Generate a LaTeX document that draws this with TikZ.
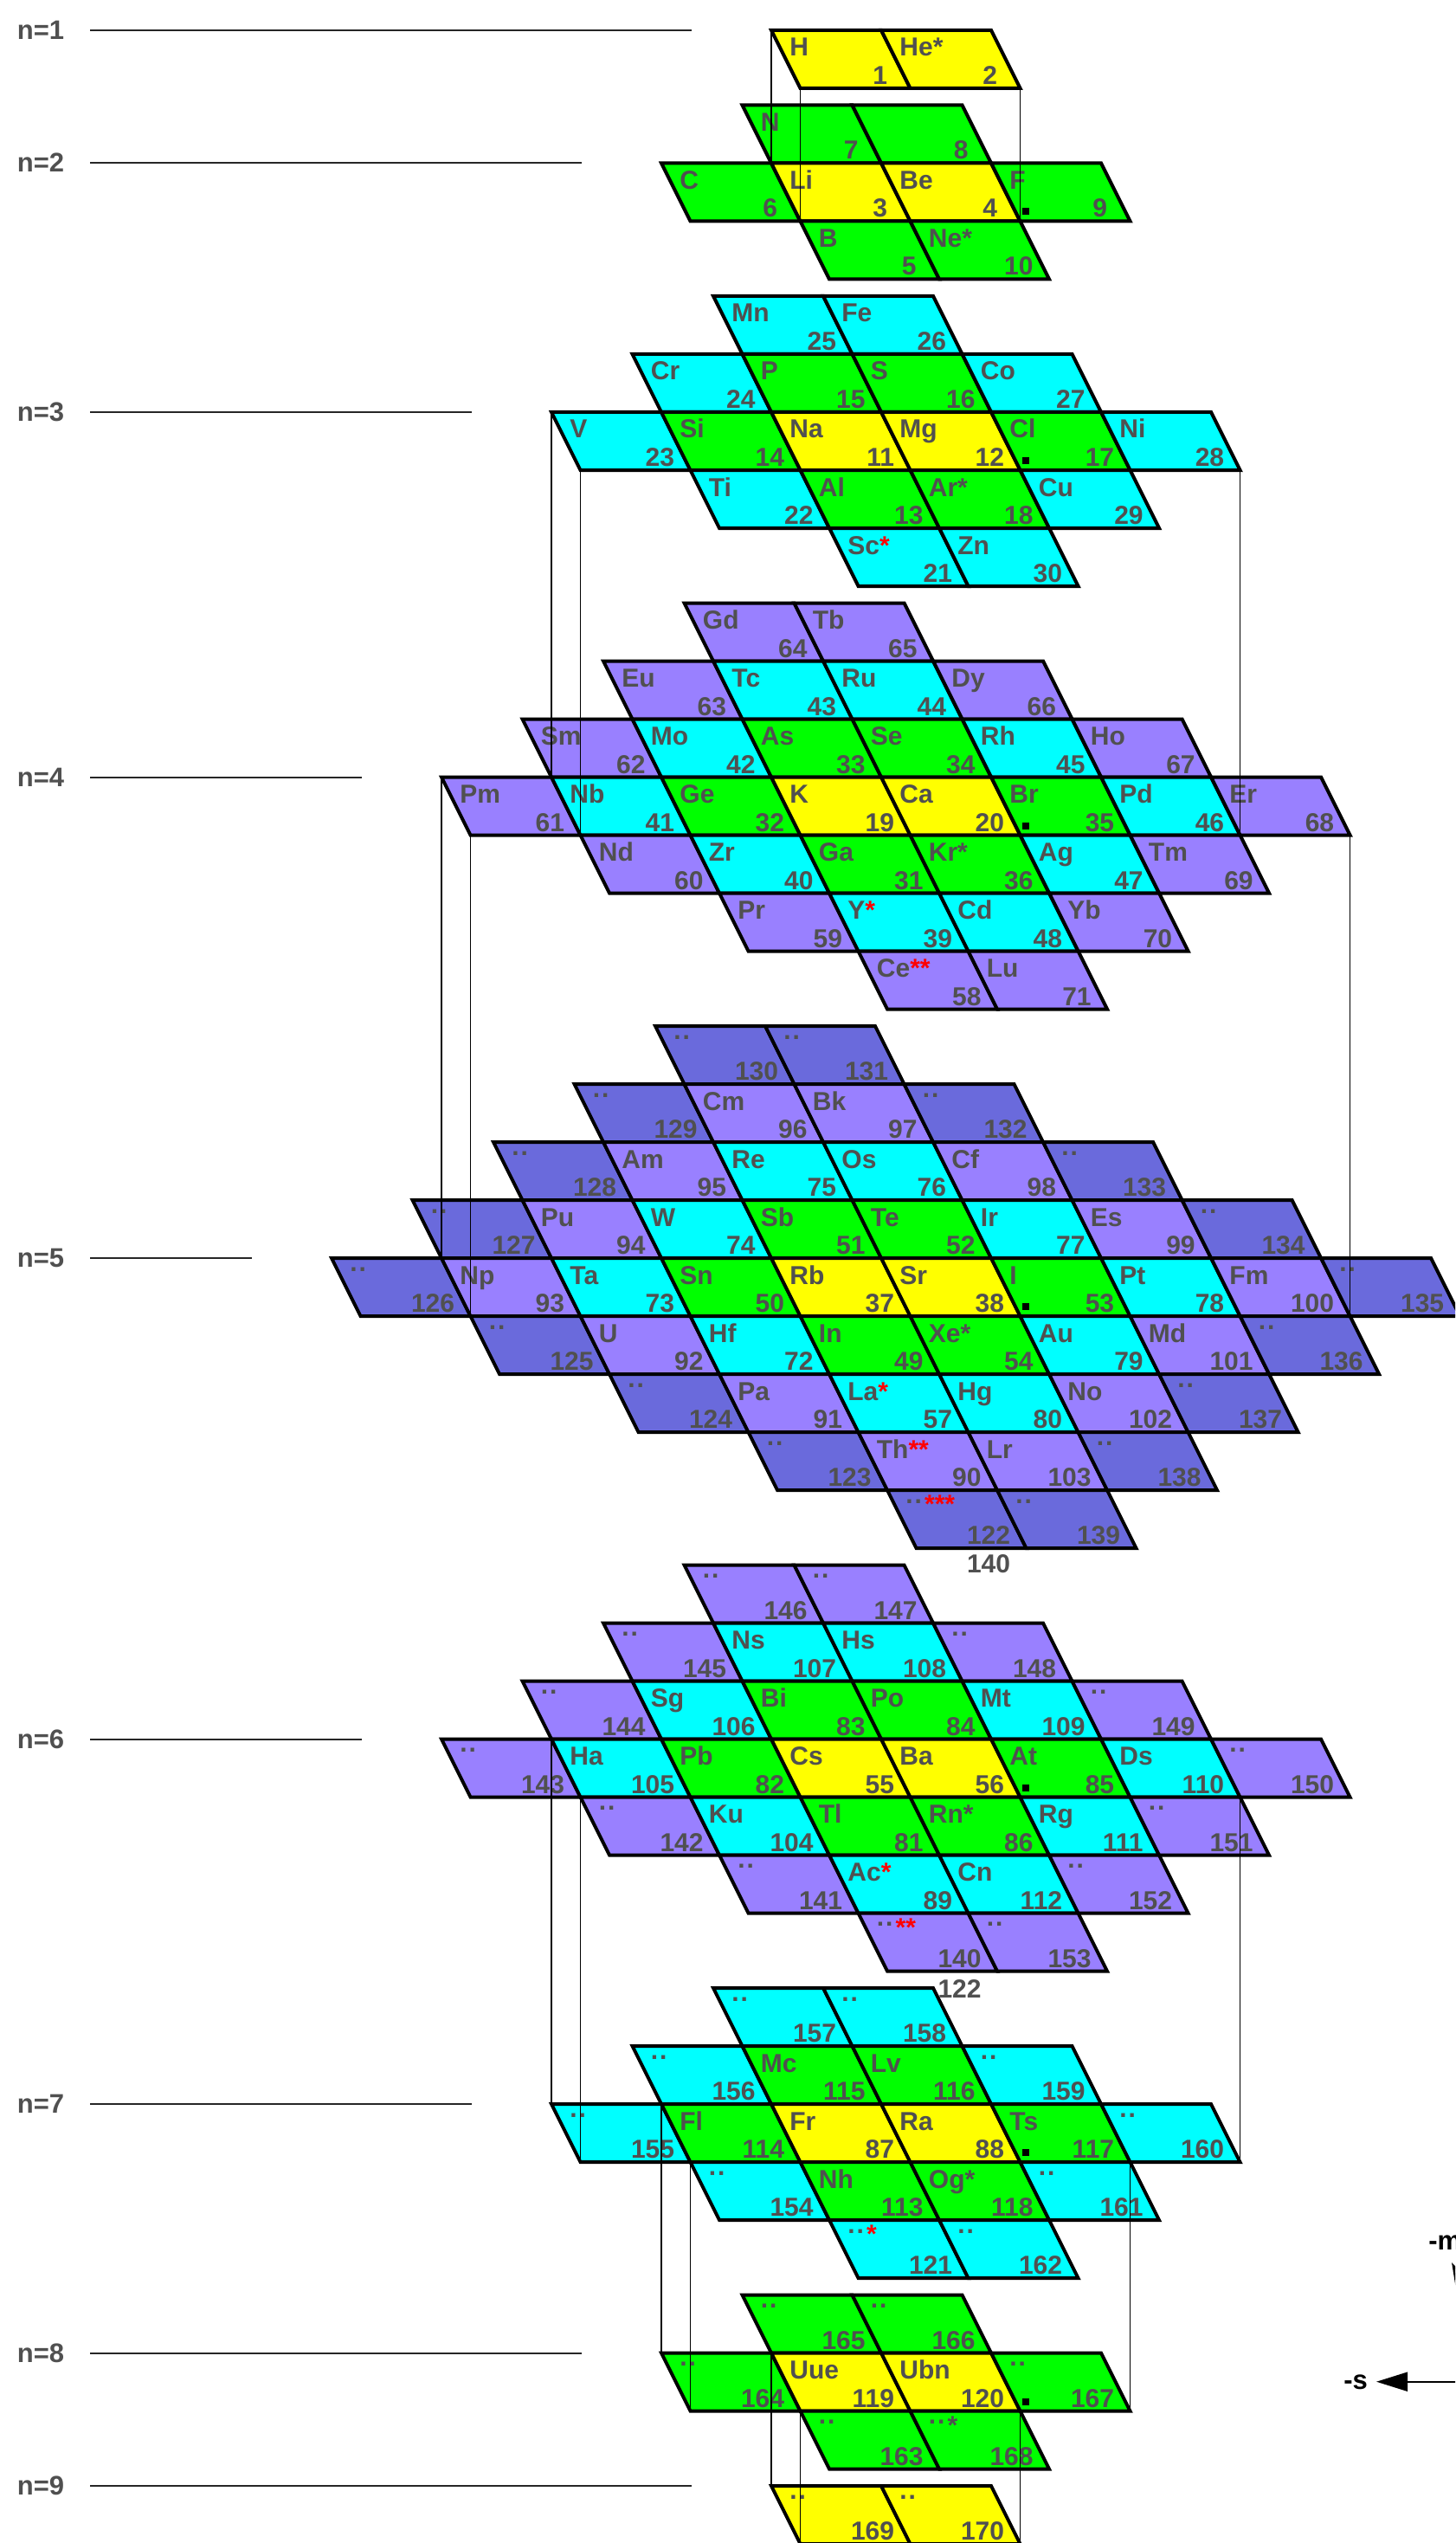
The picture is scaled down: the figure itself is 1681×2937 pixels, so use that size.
\documentclass[tikz,border=0pt]{standalone}
\usepackage{fontspec}
\setmainfont{Liberation Sans}
\usetikzlibrary{arrows.meta}
\definecolor{cS}{RGB}{255,255,0}
\definecolor{cP}{RGB}{0,255,0}
\definecolor{cD}{RGB}{0,255,255}
\definecolor{cF}{RGB}{153,128,255}
\definecolor{cG}{RGB}{106,106,220}
\definecolor{txtg}{RGB}{80,80,80}
\tikzset{
 cellline/.style={draw=black, line width=2pt, line join=miter},
 symtxt/.style={anchor=base west, inner sep=0pt, font=\fontsize{15}{18}\selectfont\bfseries, text=txtg},
 numtxt/.style={anchor=base east, inner sep=0pt, font=\fontsize{15}{18}\selectfont\bfseries, text=txtg},
 proj/.style={draw=black, line width=0.75pt},
 lvl/.style={draw=black!85, line width=1pt},
 lvltxt/.style={anchor=base west, inner sep=0pt, font=\fontsize{15.5}{18}\selectfont\bfseries, text=txtg},
 axtxt/.style={anchor=base west, inner sep=0pt, font=\fontsize{15.5}{18}\selectfont\bfseries, text=black},
 axarr/.style={draw=black, line width=1pt, -{Triangle[length=18pt,width=11pt]}},
 sqmark/.style={fill=black, draw=none},
}
\newcommand\rs[1]{\textcolor{red}{#1}}
\newcommand\pl{\raisebox{7.5pt}{.\kern1pt.}}
\newcommand\plr[1]{\pl\kern1.5pt\raisebox{1.6pt}{\textcolor{red}{#1}}}
\newcommand\plk{\pl\kern1.5pt\raisebox{1.6pt}{*}}
\newcommand\cel[5]{%
 \pgfmathsetmacro\cx{891+#2*127+#3*33.5}%
 \pgfmathsetmacro\cy{#1+#3*67}%
 \pgfmathtruncatemacro\cdist{abs(#3)+max(-#2,#2-1)}%
 \ifcase\cdist\relax\def\ccol{cS}\or\def\ccol{cP}\or\def\ccol{cD}\or\def\ccol{cF}\else\def\ccol{cG}\fi
 \filldraw[fill=\ccol, cellline] (\cx,\cy) -- ++(127,0) -- ++(33.5,67) -- ++(-127,0) -- cycle;
 \node[symtxt] (s#5) at (\cx+21,\cy+30) {#4};
 \pgfmathsetmacro\noff{ifthenelse(#5<10,26,18)}%
 \node[numtxt] (e#5) at (\cx+160.5-\noff,\cy+62.5) {#5};
}
\newcommand\crow[4]{%
 \foreach \s/\n [count=\c from 0] in {#4} {%
  \pgfmathtruncatemacro\ci{#3+\c}%
  \cel{#1}{\ci}{#2}{\s}{\n}%
 }%
}
\newcommand\sqm[1]{%
 \fill[sqmark] (1178.5+2.5,#1+67-15) rectangle (1178.5+10.5,#1+67-7);
}
\begin{document}
\begin{tikzpicture}[x=0.5pt,y=-0.5pt]
\useasboundingbox (0,0) rectangle (1681,2937);
\clip (0,0) rectangle (1681,2937);
% level lines
\foreach \lab/\yy/\xe in {1/35/799, 2/188.5/672, 3/476/545, 4/897.5/418, 5/1453/291, 6/2008.5/418, 7/2430/545, 8/2717.5/672, 9/2871/799} {
 \node[lvltxt] (lab\lab) at (19.5,\yy+10.5) {n=\lab};
 \coordinate (la\lab) at (104,\yy);
 \coordinate (lb\lab) at (\xe,\yy);
 \draw[lvl] (la\lab) -- (lb\lab);
}
% shell 1
\crow{35}{0}{0}{H/1, He*/2}
% shell 2
\crow{188.5}{-1}{0}{N/7, {}/8}
\crow{188.5}{0}{-1}{C/6, Li/3, Be/4, F/9}
\crow{188.5}{1}{0}{B/5, Ne*/10}
\sqm{188.5}
% shell 3
\crow{476}{-2}{0}{Mn/25, Fe/26}
\crow{476}{-1}{-1}{Cr/24, P/15, S/16, Co/27}
\crow{476}{0}{-2}{V/23, Si/14, Na/11, Mg/12, Cl/17, Ni/28}
\crow{476}{1}{-1}{Ti/22, Al/13, Ar*/18, Cu/29}
\crow{476}{2}{0}{{Sc\rs{*}}/21, Zn/30}
\sqm{476}
% shell 4
\crow{897.5}{-3}{0}{Gd/64, Tb/65}
\crow{897.5}{-2}{-1}{Eu/63, Tc/43, Ru/44, Dy/66}
\crow{897.5}{-1}{-2}{Sm/62, Mo/42, As/33, Se/34, Rh/45, Ho/67}
\crow{897.5}{0}{-3}{Pm/61, Nb/41, Ge/32, K/19, Ca/20, Br/35, Pd/46, Er/68}
\crow{897.5}{1}{-2}{Nd/60, Zr/40, Ga/31, Kr*/36, Ag/47, Tm/69}
\crow{897.5}{2}{-1}{Pr/59, {Y\rs{*}}/39, Cd/48, Yb/70}
\crow{897.5}{3}{0}{{Ce\rs{**}}/58, Lu/71}
\sqm{897.5}
% shell 5
\crow{1453}{-4}{0}{\pl/130, \pl/131}
\crow{1453}{-3}{-1}{\pl/129, Cm/96, Bk/97, \pl/132}
\crow{1453}{-2}{-2}{\pl/128, Am/95, Re/75, Os/76, Cf/98, \pl/133}
\crow{1453}{-1}{-3}{\pl/127, Pu/94, W/74, Sb/51, Te/52, Ir/77, Es/99, \pl/134}
\crow{1453}{0}{-4}{\pl/126, Np/93, Ta/73, Sn/50, Rb/37, Sr/38, I/53, Pt/78, Fm/100, \pl/135}
\crow{1453}{1}{-3}{\pl/125, U/92, Hf/72, In/49, Xe*/54, Au/79, Md/101, \pl/136}
\crow{1453}{2}{-2}{\pl/124, Pa/91, {La\rs{*}}/57, Hg/80, No/102, \pl/137}
\crow{1453}{3}{-1}{\pl/123, {Th\rs{**}}/90, Lr/103, \pl/138}
\crow{1453}{4}{0}{{\plr{***}}/122, \pl/139}
\sqm{1453}
\node[numtxt] (x140) at (1167.5,1816) {140};
% shell 6
\crow{2008.5}{-3}{0}{\pl/146, \pl/147}
\crow{2008.5}{-2}{-1}{\pl/145, Ns/107, Hs/108, \pl/148}
\crow{2008.5}{-1}{-2}{\pl/144, Sg/106, Bi/83, Po/84, Mt/109, \pl/149}
\crow{2008.5}{0}{-3}{\pl/143, Ha/105, Pb/82, Cs/55, Ba/56, At/85, Ds/110, \pl/150}
\crow{2008.5}{1}{-2}{\pl/142, Ku/104, Tl/81, Rn*/86, Rg/111, \pl/151}
\crow{2008.5}{2}{-1}{\pl/141, {Ac\rs{*}}/89, Cn/112, \pl/152}
\crow{2008.5}{3}{0}{{\plr{**}}/140, \pl/153}
\sqm{2008.5}
\node[numtxt] (x122) at (1134,2307) {122};
% shell 7
\crow{2430}{-2}{0}{\pl/157, \pl/158}
\crow{2430}{-1}{-1}{\pl/156, Mc/115, Lv/116, \pl/159}
\crow{2430}{0}{-2}{\pl/155, Fl/114, Fr/87, Ra/88, Ts/117, \pl/160}
\crow{2430}{1}{-1}{\pl/154, Nh/113, Og*/118, \pl/161}
\crow{2430}{2}{0}{{\plr{*}}/121, \pl/162}
\sqm{2430}
% shell 8
\crow{2717.5}{-1}{0}{\pl/165, \pl/166}
\crow{2717.5}{0}{-1}{\pl/164, Uue/119, Ubn/120, \pl/167}
\crow{2717.5}{1}{0}{\pl/163, {\plk}/168}
\sqm{2717.5}
% shell 9
\crow{2871}{0}{0}{\pl/169, \pl/170}
% projection lines
\foreach \xa/\ya/\yb in {891/35/188.5, 924.5/102/255.5, 1178.5/102/255.5,
  637/476/897.5, 670.5/543/964.5, 1432.5/543/964.5,
  510/897.5/1453, 543.5/964.5/1520, 1559.5/964.5/1520,
  637/2008.5/2430, 670.5/2075.5/2497, 1432.5/2075.5/2497,
  764/2430/2717.5, 797.5/2497/2784.5, 1305.5/2497/2784.5,
  891/2717.5/2871, 924.5/2784.5/2940, 1178.5/2784.5/2940} {
 \coordinate (pa) at (\xa,\ya);
 \coordinate (pb) at (\xa,\yb);
 \draw[proj] (pa) -- (pb);
}
% legend
\coordinate (O) at (1746,2750.7);
\coordinate (st) at (1590,2750.7);
\coordinate (mt) at (1677,2613);
\draw[axarr] (O) -- (st);
\draw[axarr] (O) -- (mt);
\node[axtxt] (sl) at (1552,2759) {-s};
\node[axtxt] (ml) at (1650,2598.5) {-m};
\end{tikzpicture}
\end{document}
